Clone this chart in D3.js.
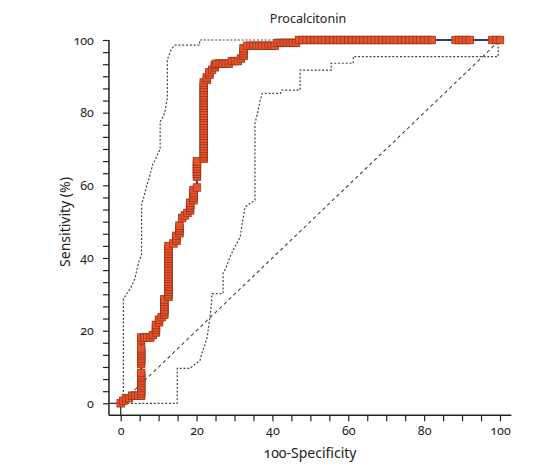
<!DOCTYPE html>
<html><head><meta charset="utf-8">
<script src="https://cdn.jsdelivr.net/npm/d3@7"></script>
<style>
body{margin:0;background:#fff;}
svg text{font-family:"Noto Sans",sans-serif;fill:#222;font-feature-settings:"onum" 1;font-variant-numeric:oldstyle-nums;}
</style></head><body>
<svg id="c" width="546" height="467"></svg>
<script>
const title = "Procalcitonin";
const xLabel = "100-Specificity";
const yLabel = "Sensitivity (%)";
const xMajorTicks = [0,20,40,60,80,100];
const yMajorTicks = [0,20,40,60,80,100];

// ROC curve points [100-Specificity, Sensitivity]
const rocPoints = [
 [0,0],[0.7,0.7],[1.4,1.4],[2.2,1.4],[3,2.1],[3.8,2.1],[4.6,2.1],[5.4,2.1],
 [5.4,2.8],[5.4,3.5],[5.4,4.2],[5.4,4.9],[5.4,5.6],[5.4,6.3],[5.4,7.0],[5.4,7.7],[5.4,8.4],
 [5.4,10.9],[5.4,11.6],[5.4,12.3],[5.4,13.0],[5.4,13.7],[5.4,14.4],[5.4,15.1],
 [5.4,17.4],[5.4,18.1],
 [6.2,18.1],[7,18.1],[7.8,18.1],[8.5,18.8],[9.3,19.5],[9.3,20.2],[9.3,20.9],[9.3,21.6],
 [10.1,22.3],[10.1,23.0],[10.8,23.7],[11.5,24.4],[11.5,25.1],[11.5,25.8],[11.5,26.5],[11.5,27.2],[11.5,27.9],[11.5,28.6],
 [12.6,29.3],[12.6,30.0],[12.6,30.7],[12.6,31.4],[12.6,32.1],[12.6,32.8],[12.6,33.5],[12.6,34.2],[12.6,34.9],[12.6,35.6],
 [12.6,36.3],[12.6,37.0],[12.6,37.7],[12.6,38.4],[12.6,39.1],[12.6,39.8],[12.6,40.5],[12.6,41.2],[12.6,41.9],[12.6,42.6],[12.6,43.3],
 [13.9,44.0],[14.7,44.7],[14.7,45.4],[14.7,46.1],[15.5,46.8],[15.5,47.5],[15.5,48.2],[15.5,48.9],
 [16.2,51.0],[16.9,51.7],[17.6,52.4],[18.3,53.1],[18.3,53.8],[18.3,54.5],[18.3,55.2],
 [19.2,55.9],[19.2,56.6],[19.2,57.3],[19.2,58.0],[19.2,58.7],[20.1,59.4],
 [20.1,62.4],[20.1,63.1],[20.1,63.8],[20.1,64.5],[20.1,65.2],[20.1,65.9],[20.1,66.6],
 [21.9,67.3],[21.9,68.0],[21.9,68.7],[21.9,69.4],[21.9,70.1],[21.9,70.8],[21.9,71.5],[21.9,72.2],[21.9,72.9],[21.9,73.6],
 [21.9,74.3],[21.9,75.0],[21.9,75.7],[21.9,76.4],[21.9,77.1],[21.9,77.8],[21.9,78.5],[21.9,79.2],[21.9,79.9],[21.9,80.6],
 [21.9,81.3],[21.9,82.0],[21.9,82.7],[21.9,83.4],[21.9,84.1],[21.9,84.8],[21.9,85.5],[21.9,86.2],[21.9,86.9],[21.9,87.6],[21.9,88.3],
 [22.7,89.0],[22.7,89.7],[23.4,90.4],[23.4,91.1],[24.1,91.8],[24.8,92.5],[24.8,93.2],
 [25.3,93.5],[26.1,93.5],[26.9,93.5],[27.7,93.5],[28.5,93.5],
 [29.3,94.2],[30.1,94.2],[30.9,94.2],[31.7,94.9],[32.4,95.6],[32.4,96.3],[32.4,97.0],[32.4,97.7],
 [33.4,98.4],[34.2,98.4],[35.0,98.4],[35.8,98.4],[36.6,98.4],[37.4,98.4],[38.2,98.4],[39.0,98.4],[39.8,98.4],[40.6,98.4],
 [41.4,99.2],[42.2,99.2],[43.0,99.2],[43.8,99.2],[44.6,99.2],[45.4,99.2],[46.2,99.2],
 [47,100],[48,100],[49,100],[50,100],[51,100],[52,100],[53,100],[54,100],[55,100],[56,100],[57,100],[58,100],
 [59,100],[60,100],[61,100],[62,100],[63,100],[64,100],[65,100],[66,100],[67,100],[68,100],[69,100],[70,100],
 [71,100],[72,100],[73,100],[74,100],[75,100],[76,100],[77,100],[78,100],[79,100],[80,100],[81,100],[82,100],
 [88.3,100],[89.2,100],[90.1,100],[91,100],[92,100],
 [98,100],[99,100],[100,100]
];

// 95% confidence bounds
const upperBand = [
 [0.7,0],[0.7,28.5],[1.2,29.5],[1.8,30.5],[2.5,31.5],[3.2,33],[3.8,34.5],[4.3,37],[4.8,39],[5.5,41],[5.5,55],
 [5.9,56],[6.4,58],[6.9,60],[7.5,62],[8,64],[8.5,66],[9.1,67],[9.7,68.5],[10.4,70],[10.4,77.5],[11,78.5],[11.6,80],
 [12.3,84],[12.3,94.5],[12.8,96],[13.4,97.5],[14.3,98.6],[20.8,98.6],[20.8,100],[100,100]
];
const lowerBand = [
 [0.7,0],[14.9,0],[14.9,9.6],[18.3,9.6],[19.3,10.5],[20.9,11.8],[21.5,14],[22.3,16.5],[22.8,18.2],[23.3,22],[23.8,26],
 [24.1,30.2],[27,30.2],[27,35.8],[27.8,37.5],[28.8,40.2],[29.8,42.5],[31.5,45.7],[31.8,48],[32.3,51],[32.8,54],[34,55],
 [35.4,55.9],[35.4,77.1],[36,79.5],[36.8,83.4],[37.3,85.3],[42.1,85.3],[42.4,86.2],[47.3,86.2],[47.3,91.7],[55.5,91.7],
 [55.5,93.6],[61.3,93.6],[61.3,95.4],[99.5,95.4],[99.5,100]
];
const diagonal = [[0,0],[100,100]];

const svg = d3.select("#c");
const x = d3.scaleLinear().domain([0,100]).range([120.7,500]);
const y = d3.scaleLinear().domain([0,100]).range([403.3,40]);
const axisY = y(-3.3), axisX = x(-3.1);

// axes
const xa = svg.append("g").attr("transform",`translate(0,${axisY})`)
  .call(d3.axisBottom(x).tickValues(d3.range(0,101,5)).tickSize(6).tickPadding(5)
    .tickFormat(d => xMajorTicks.includes(d) ? d : ""));
xa.select(".domain").remove();
xa.selectAll("line").attr("stroke","#222").attr("stroke-width",1.2);
xa.selectAll("text").attr("font-size",12.5).attr("fill","#222");
svg.append("line").attr("x1",axisX).attr("x2",x(103)).attr("y1",axisY).attr("y2",axisY)
  .attr("stroke","#222").attr("stroke-width",1.5);

const yTickVals = d3.range(0,31).map(i => i*10/3);
const ya = svg.append("g").attr("transform",`translate(${axisX},0)`)
  .call(d3.axisLeft(y).tickValues(yTickVals).tickSize(6).tickPadding(9)
    .tickFormat((d,i) => i%6===0 ? Math.round(d) : ""));
ya.select(".domain").remove();
ya.selectAll("line").attr("stroke","#222").attr("stroke-width",1.2);
ya.selectAll("text").attr("font-size",12.5).attr("fill","#222");
svg.append("line").attr("x1",axisX).attr("x2",axisX).attr("y1",y(100)).attr("y2",axisY)
  .attr("stroke","#222").attr("stroke-width",1.5);

// origin connectors
svg.append("line").attr("x1",axisX).attr("x2",x(0)).attr("y1",y(0)).attr("y2",y(0)).attr("stroke","#222").attr("stroke-width",1.2);
svg.append("line").attr("x1",x(0)).attr("x2",x(0)).attr("y1",y(0)).attr("y2",axisY).attr("stroke","#222").attr("stroke-width",1.2);

// labels
svg.append("text").attr("x",308).attr("y",23).attr("text-anchor","middle").attr("font-size",12.5).text(title);
svg.append("text").attr("x",310).attr("y",458).attr("text-anchor","middle").attr("font-size",14).text(xLabel);
svg.append("text").attr("transform","translate(70,222) rotate(-90)").attr("text-anchor","middle").attr("font-size",14).text(yLabel);

const line = d3.line().x(d=>x(d[0])).y(d=>y(d[1]));
svg.append("path").attr("d",line(diagonal)).attr("fill","none").attr("stroke","#444").attr("stroke-width",1.1).attr("stroke-dasharray","3.5,3");
svg.append("path").attr("d",line(upperBand)).attr("fill","none").attr("stroke","#444").attr("stroke-width",1.2).attr("stroke-dasharray","2,1.8");
svg.append("path").attr("d",line(lowerBand)).attr("fill","none").attr("stroke","#444").attr("stroke-width",1.2).attr("stroke-dasharray","2,1.8");

svg.append("path").attr("d",line(rocPoints)).attr("fill","none").attr("stroke","#2b3a8f").attr("stroke-width",2);
const ms = 7.5;
svg.append("g").selectAll("rect").data(rocPoints).join("rect")
  .attr("x",d=>x(d[0])-ms/2).attr("y",d=>y(d[1])-ms/2).attr("width",ms).attr("height",ms)
  .attr("fill","#e8522b").attr("stroke","#9a3419").attr("stroke-width",0.8);
</script></body></html>
